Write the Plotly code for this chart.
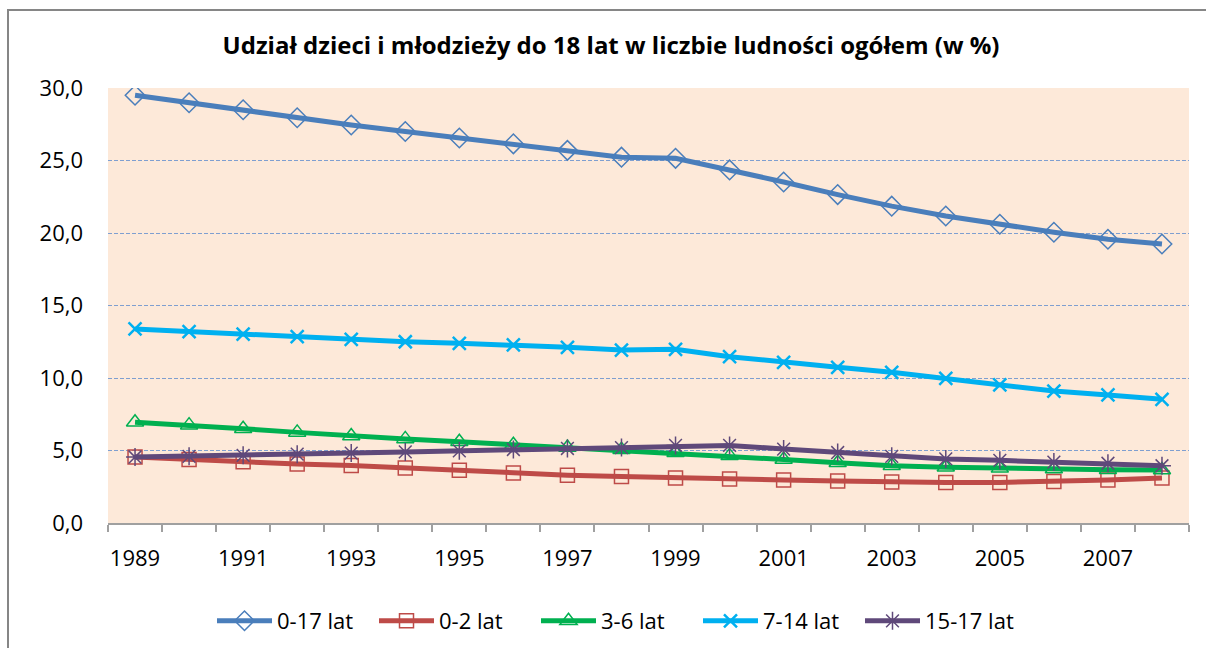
import plotly.graph_objects as go

years = list(range(1989, 2009))
tick_years = [1989, 1991, 1993, 1995, 1997, 1999, 2001, 2003, 2005, 2007]

s_0_17 = [29.5, 28.98, 28.5, 27.95, 27.45, 27.0, 26.55, 26.15, 25.7, 25.23,
          25.15, 24.35, 23.52, 22.65, 21.85, 21.17, 20.6, 20.05, 19.57, 19.24]
s_0_2 = [4.55, 4.38, 4.22, 4.07, 3.97, 3.8, 3.63, 3.45, 3.3, 3.2,
         3.1, 3.03, 2.97, 2.9, 2.83, 2.8, 2.8, 2.87, 2.97, 3.1]
s_3_6 = [6.95, 6.75, 6.5, 6.25, 6.0, 5.8, 5.6, 5.4, 5.2, 5.05,
         4.85, 4.63, 4.38, 4.15, 3.95, 3.85, 3.77, 3.72, 3.68, 3.66]
s_7_14 = [13.38, 13.2, 13.03, 12.85, 12.67, 12.5, 12.39, 12.28, 12.12, 11.93,
          11.98, 11.47, 11.08, 10.74, 10.39, 9.98, 9.52, 9.1, 8.83, 8.53]
s_15_17 = [4.55, 4.6, 4.67, 4.75, 4.82, 4.9, 4.98, 5.07, 5.14, 5.2,
           5.35, 5.35, 5.1, 4.86, 4.6, 4.42, 4.32, 4.2, 4.12, 3.95]

series = [
    ("0-17 lat", s_0_17, "#4A7EBB", "diamond-open", 15),
    ("0-2 lat", s_0_2, "#BE4B48", "square-open", 14),
    ("3-6 lat", s_3_6, "#00B050", "triangle-up-open", 15),
    ("7-14 lat", s_7_14, "#00B0F0", "x-thin-open", 13),
    ("15-17 lat", s_15_17, "#5F497A", "asterisk-open", 15),
]

FONT = "Open Sans"
fig = go.Figure()
for name, vals, col, sym, sz in series:
    fig.add_trace(go.Scatter(
        x=years, y=vals, name=name, mode="lines+markers",
        line=dict(color=col, width=5),
        marker=dict(symbol=sym, size=sz, color=col,
                    line=dict(color=col, width=1.5 if "x-thin" not in sym else 2.5)),
    ))

boundaries = [y - 0.5 for y in years] + [years[-1] + 0.5]

fig.update_layout(
    width=1206, height=648,
    margin=dict(l=108, r=17, t=88, b=125, autoexpand=False),
    paper_bgcolor="white",
    plot_bgcolor="#FDE9D9",
    separators=", ",
    font=dict(family=FONT, size=22, color="#000000"),
    title=dict(text="<b>Udział dzieci i młodzieży do 18 lat w liczbie ludności ogółem (w %)</b>",
               x=(611) / 1206, xanchor="center", y=1 - 46 / 648, yanchor="middle",
               font=dict(family=FONT, size=24, color="#000000")),
    showlegend=True,
    legend=dict(orientation="h", xref="container", yref="container",
                x=617 / 1206, xanchor="center",
                y=1 - 621 / 648, yanchor="middle",
                font=dict(family=FONT, size=22), bgcolor="rgba(0,0,0,0)",
                itemwidth=55, entrywidth=92, entrywidthmode="pixels",
                traceorder="normal"),
    xaxis=dict(
        range=[1988.5, 2008.5], tickmode="array", tickvals=tick_years,
        ticktext=[str(t) for t in tick_years], ticks="", showgrid=False, zeroline=False,
        showline=True, linecolor="#A0A0A0", linewidth=2,
        ticklabelstandoff=15, tickfont=dict(family=FONT, size=22),
        minor=dict(tickmode="array", tickvals=boundaries, ticks="outside",
                   ticklen=7, tickcolor="#A0A0A0", tickwidth=1.5, showgrid=False),
    ),
    yaxis=dict(
        range=[0, 30], dtick=5, tick0=0, tickformat=".1f", showgrid=True,
        gridcolor="#7F9FD0", griddash="4px,2px", gridwidth=1,
        zeroline=False, showline=False, ticks="",
        ticklabelstandoff=24, tickfont=dict(family=FONT, size=22),
    ),
    shapes=[
        dict(type="rect", xref="paper", yref="paper",
             x0=(8 - 108) / 1081, x1=(1230 - 108) / 1081,
             y0=(523 - 680) / 435, y1=(523 - 10) / 435,
             line=dict(color="#868686", width=2), fillcolor="rgba(0,0,0,0)", layer="below"),
    ],
)

fig.write_html("out.html", config={"displayModeBar": False},
               post_script="document.body.style.margin='0';")
